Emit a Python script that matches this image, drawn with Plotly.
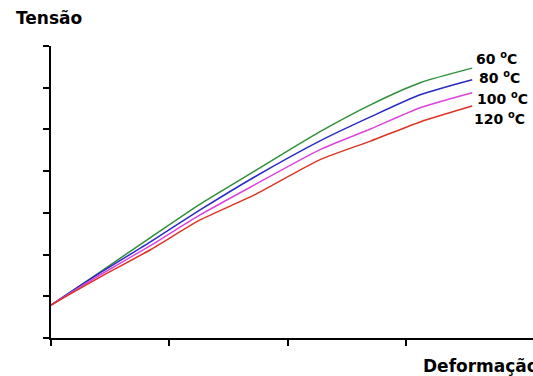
import plotly.graph_objects as go

# Strain (x) in axis-tick units and stress (y) in axis-tick units
deformacao = [0, 0.414, 0.837, 1.26, 1.72, 2.27, 2.70, 3.12, 3.56]
tensao_60 = [0.79, 1.58, 2.40, 3.21, 4.00, 4.94, 5.59, 6.12, 6.47]
tensao_80 = [0.79, 1.56, 2.30, 3.07, 3.86, 4.72, 5.30, 5.83, 6.19]
tensao_100 = [0.79, 1.51, 2.21, 2.95, 3.67, 4.51, 5.01, 5.52, 5.88]
tensao_120 = [0.79, 1.46, 2.11, 2.83, 3.43, 4.27, 4.72, 5.18, 5.56]

series_names = ["60 <sup>o</sup>C", "80 <sup>o</sup>C", "100 <sup>o</sup>C", "120 <sup>o</sup>C"]
series_values = [tensao_60, tensao_80, tensao_100, tensao_120]
series_colors = ["#2f8f3a", "#2a2ac8", "#dd44dd", "#dd3322"]

x_ticks = [0, 1, 2, 3]
y_ticks = [0, 1, 2, 3, 4, 5, 6, 7]

W, H = 533, 376
L, R, T, B = 51, 0, 46, 38
pw, ph = W - L - R, H - T - B

def px(xp):
    return (xp - L) / pw

def py(yp):
    return (H - B - yp) / ph

fig = go.Figure()
for name, vals, col in zip(series_names, series_values, series_colors):
    fig.add_trace(go.Scatter(x=deformacao, y=vals, mode="lines", name=name,
                             line=dict(color=col, width=1.5, shape="spline", smoothing=0.6),
                             showlegend=False, hoverinfo="skip"))

label_font = dict(family="DejaVu Sans", size=14, color="black")
label_pos = [(474, 58), (477, 77), (475, 98), (472, 118)]
for name, (lx, ly) in zip(series_names, label_pos):
    fig.add_annotation(x=px(lx), y=py(ly), xref="paper", yref="paper", text="<b>" + name + "</b>",
                       showarrow=False, xanchor="left", yanchor="middle", font=label_font)

fig.add_annotation(x=px(14), y=py(18), xref="paper", yref="paper", text="<b>Tensão</b>",
                   showarrow=False, xanchor="left", yanchor="middle",
                   font=dict(family="DejaVu Sans", size=17, color="black"))
fig.add_annotation(x=px(421), y=py(366), xref="paper", yref="paper", text="<b>Deformação</b>",
                   showarrow=False, xanchor="left", yanchor="middle",
                   font=dict(family="DejaVu Sans", size=17, color="black"))

axis_common = dict(showgrid=False, zeroline=False, showticklabels=False, showline=True,
                   linecolor="black", linewidth=1.5, ticks="outside", ticklen=6,
                   tickwidth=1.5, tickcolor="black", fixedrange=True)

fig.update_layout(
    width=W, height=H,
    margin=dict(l=L, r=R, t=T, b=B, pad=0),
    paper_bgcolor="white", plot_bgcolor="white",
    xaxis=dict(range=[0, 4.074], tickvals=x_ticks, **axis_common),
    yaxis=dict(range=[0, 7], tickvals=y_ticks, **axis_common),
)

fig.write_html("out.html", config={"displayModeBar": False},
               post_script="document.body.style.margin='0';document.body.style.overflow='hidden';")
